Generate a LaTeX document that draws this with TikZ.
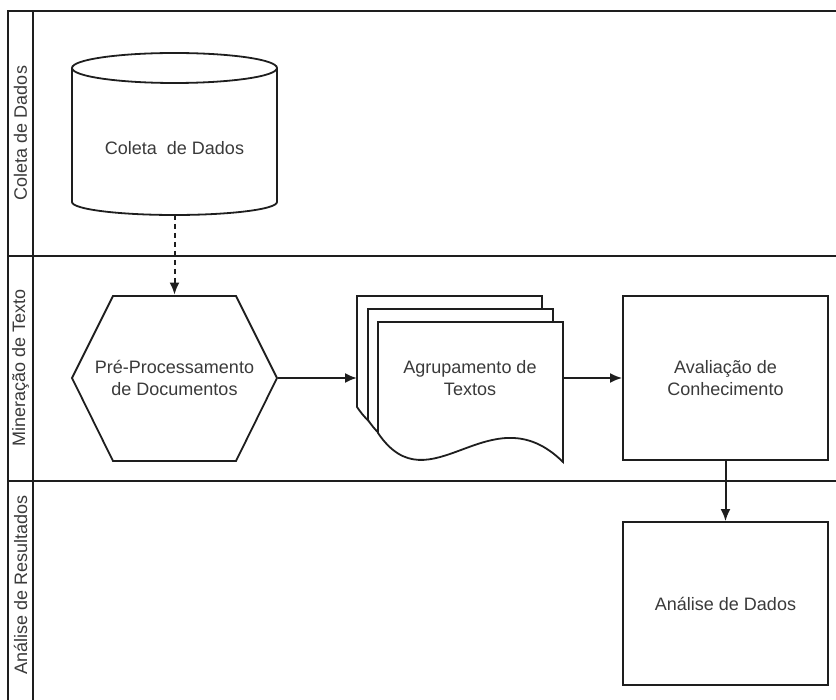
\documentclass[tikz,border=0pt]{standalone}
\usepackage{fontspec}
\setmainfont{Liberation Sans}
\usetikzlibrary{arrows.meta}
\definecolor{ink}{HTML}{1E1E1E}
\definecolor{txtc}{HTML}{3A3A3A}
\begin{document}
\begin{tikzpicture}[x=1pt,y=-1pt,line width=1.8pt,draw=ink,
  txt/.style={font=\fontsize{18}{22.5}\selectfont,text=txtc,align=center,inner sep=0pt},
  lanelbl/.style={txt,rotate=90},
  boxnode/.style={draw=ink,fill=white,minimum width=205pt,minimum height=164pt,txt},
  arr/.style={line width=2pt,-{Latex[length=12pt,width=10pt]}},
  frameline/.style={line width=2pt},
  sheet/.pic={\draw[fill=white] (378,322) -- (563,322) -- (563,462)
     .. controls (490,390) and (430,510) .. (378,433) -- cycle;}]
\useasboundingbox (0,0) rectangle (836,700);
% frame and lanes
\draw[frameline] (8,700) -- (8,11) -- (836,11);
\draw[frameline] (33,11) -- (33,700);
\draw[frameline] (8,256) -- (836,256);
\draw[frameline] (8,481) -- (836,481);
\node[lanelbl] (l1) at (20.5,133) {Coleta de Dados};
\node[lanelbl] (l2) at (20.5,368) {Mineração de Texto};
\node[lanelbl] (l3) at (20.5,585) {Análise de Resultados};
% cylinder
\draw[fill=white] (72,68) -- (72,202) arc[start angle=180,end angle=0,x radius=102.5,y radius=13] -- (277,68);
\draw (174.5,68) ellipse [x radius=102.5, y radius=15];
\node[txt] (coleta) at (174.5,148) {Coleta\ \ de Dados};
\coordinate (cylbot) at (174.5,215);
% hexagon
\draw (72,378) -- (113,296) -- (236,296) -- (277,378) -- (236,461) -- (113,461) -- cycle;
\node[txt,minimum width=205pt,minimum height=165pt] (pre) at (174.5,378) {Pré-Processamento\\de Documentos};
% multi-document
\pic at (-21,-26) {sheet};
\pic at (-10,-13) {sheet};
\pic at (0,0) {sheet};
\node[txt] (agr) at (470,378) {Agrupamento de\\Textos};
\coordinate (docin) at (357,378);
\coordinate (docout) at (563,378);
% boxes
\node[boxnode] (aval) at (725.5,378) {Avaliação de\\Conhecimento};
\node[boxnode,minimum height=163pt] (anal) at (725.5,603.5) {Análise de Dados};
% connectors
\draw[arr,dash pattern=on 5pt off 4pt] (cylbot) -- (pre.north);
\draw[arr] (pre.east) -- (docin);
\draw[arr] (docout) -- (aval.west);
\draw[arr] (aval.south) -- (anal.north);
\end{tikzpicture}
\end{document}
